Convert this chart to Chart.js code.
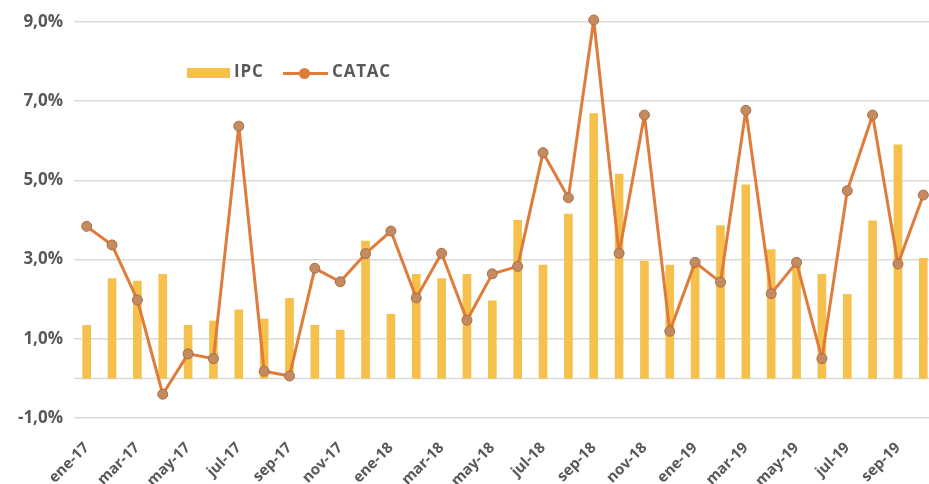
<!DOCTYPE html>
<html>
<head>
<meta charset="utf-8">
<script src="https://cdn.jsdelivr.net/npm/chart.js@4/dist/chart.umd.min.js"></script>
<style>
  body { margin: 0; background: #fff; }
  .wrap { position: relative; width: 929px; height: 484px; overflow: hidden; }
  canvas { position: absolute; left: 0; top: 0; }
  .legend { position: absolute; top: 62px; left: 187px; font: bold 17px "Open Sans", sans-serif; color: #595959; letter-spacing: 0.8px; }
  .legend span { position: absolute; white-space: nowrap; }
  .sw-bar { left: 0; top: 6px; width: 43px; height: 10px; background: #F6C04C; }
  .sw-line { left: 96px; top: 10px; width: 45px; height: 3px; background: #E07C3A; }
  .sw-dot { left: 112px; top: 6px; width: 11px; height: 11px; border-radius: 50%; background: #E07C3A; }
</style>
</head>
<body>
<div class="wrap">
  <canvas id="chart" width="942" height="484"></canvas>
  <div class="legend">
    <span class="sw-bar"></span><span style="left:47px;top:-3px">IPC</span>
    <span class="sw-line"></span><span class="sw-dot"></span><span style="left:145px;top:-3px">CATAC</span>
  </div>
</div>
<script>
// DATA
const months = ['ene-17','feb-17','mar-17','abr-17','may-17','jun-17','jul-17','ago-17','sep-17','oct-17','nov-17','dic-17',
  'ene-18','feb-18','mar-18','abr-18','may-18','jun-18','jul-18','ago-18','sep-18','oct-18','nov-18','dic-18',
  'ene-19','feb-19','mar-19','abr-19','may-19','jun-19','jul-19','ago-19','sep-19','oct-19'];

const ipc = [1.34,2.52,2.46,2.63,1.34,1.45,1.73,1.50,2.02,1.34,1.22,3.47,
  1.62,2.63,2.52,2.63,1.96,3.99,2.86,4.15,6.69,5.16,2.96,2.86,
  2.95,3.86,4.89,3.25,2.92,2.63,2.12,3.98,5.90,3.03];

const catac = [3.84,3.37,1.98,-0.40,0.62,0.50,6.37,0.18,0.06,2.78,2.44,3.15,
  3.72,2.03,3.16,1.47,2.64,2.83,5.70,4.56,9.05,3.16,6.65,1.19,
  2.93,2.43,6.77,2.14,2.93,0.50,4.74,6.65,2.89,4.63];

const yTicks = [-1, 1, 3, 5, 7, 9];

const gridColor = '#D9D9D9';
const textColor = '#595959';

// zero line (unlabelled axis line at 0%)
const zeroLine = {
  id: 'zeroLine',
  beforeDatasetsDraw(chart) {
    const y = chart.scales.y.getPixelForValue(0);
    const a = chart.chartArea;
    const c = chart.ctx;
    c.save();
    c.strokeStyle = gridColor;
    c.lineWidth = 1.5;
    c.beginPath();
    c.moveTo(a.left, y);
    c.lineTo(a.right, y);
    c.stroke();
    c.restore();
  }
};

const ctx = document.getElementById('chart').getContext('2d');

new Chart(ctx, {
  data: {
    labels: months,
    datasets: [{
      type: 'line',
      label: 'CATAC',
      data: catac,
      borderColor: '#E07C3A',
      borderWidth: 3,
      borderJoinStyle: 'round',
      borderCapStyle: 'round',
      pointRadius: 5,
      pointBackgroundColor: '#C48A60',
      pointBorderColor: '#A86E48',
      pointBorderWidth: 1,
      tension: 0,
      clip: false,
      order: 0
    }, {
      type: 'bar',
      label: 'IPC',
      data: ipc,
      backgroundColor: '#F6C04C',
      barThickness: 8,
      order: 1
    }]
  },
  options: {
    responsive: false,
    animation: false,
    layout: { padding: { top: 22, right: 0, left: 0, bottom: 0 } },
    plugins: { legend: { display: false }, tooltip: { enabled: false } },
    scales: {
      x: {
        grid: { display: false, drawTicks: false },
        border: { display: false },
        ticks: {
          autoSkip: false,
          maxRotation: 45,
          minRotation: 45,
          padding: 21,
          color: textColor,
          font: { family: 'Open Sans', weight: 'bold', size: 15 },
          callback: function(v, i) { return i % 2 === 0 ? months[i] : ''; }
        },
        afterFit: function(s) { s.height = 66; s.paddingLeft = 0; s.paddingRight = 0; }
      },
      y: {
        min: -1,
        max: 9,
        afterBuildTicks: function(s) { s.ticks = yTicks.map(v => ({ value: v })); },
        grid: { color: gridColor, lineWidth: 1.5, drawTicks: false },
        border: { display: false },
        ticks: {
          padding: 11,
          color: textColor,
          font: { family: 'Open Sans', weight: 'bold', size: 17 },
          callback: function(v) { return v.toFixed(1).replace('.', ',') + '%'; }
        },
        afterFit: function(s) { s.width = 74; s.paddingTop = 0; s.paddingBottom = 0; }
      }
    }
  },
  plugins: [zeroLine]
});
</script>
</body>
</html>
